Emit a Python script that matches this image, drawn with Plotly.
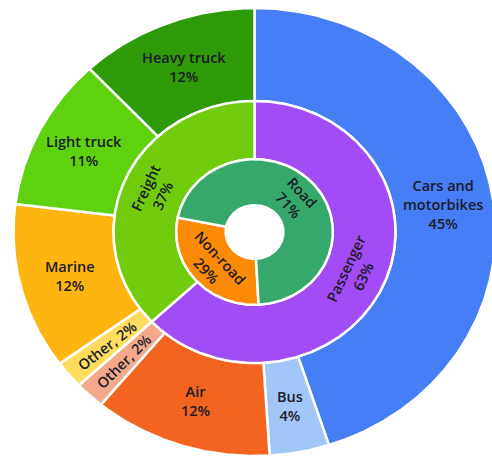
import math
import plotly.graph_objects as go

# ---- data ----
outer_labels = ["Cars and motorbikes", "Bus", "Air", "Other", "Other", "Marine", "Light truck", "Heavy truck"]
outer_values = [45, 4, 12, 2, 2, 12, 11, 12]
middle_labels = ["Passenger", "Freight"]
middle_values = [63, 37]
inner_labels = ["Non-road", "Road"]
inner_values = [29, 71]

# ---- style ----
outer_colors = ["#457ef5", "#a2c6f8", "#f2641f", "#f4a98a", "#fedd5e", "#feb50f", "#5fd20f", "#2f9a08"]
middle_colors = ["#a24cf5", "#70cc0c"]
inner_colors = ["#fb8a05", "#36a86c"]
outer_orient = ["h", "h", "h", "radial", "radial", "h", "h", "h"]
wrap = {"Cars and motorbikes": "Cars and<br>motorbikes"}

W, H = 492, 458
CX, CY = 254.5, 232.0        # centre in figure pixels
SX, SY = 241.0, 224.0        # pixels per unit (elliptical)
xr = [-CX / SX, (W - CX) / SX]
yr = [-(H - CY) / SY, CY / SY]

TXT = dict(family="Open Sans", size=14.5, color="#1b1b2a", weight=600)

fig = go.Figure()
annotations = []


def norm_angle(a):
    while a > 90:
        a -= 180
    while a <= -90:
        a += 180
    return a


def ring(labels, values, colors, r0, r1, start, orient, fmt):
    total = sum(values)
    a = start
    for i, (lab, v, c) in enumerate(zip(labels, values, colors)):
        span = 360.0 * v / total
        a0, a1 = a, a + span
        n = max(int(span * 2), 4)
        angs = [a0 + span * k / n for k in range(n + 1)]
        xs = [r1 * math.sin(math.radians(t)) for t in angs]
        ys = [r1 * math.cos(math.radians(t)) for t in angs]
        xs += [r0 * math.sin(math.radians(t)) for t in reversed(angs)]
        ys += [r0 * math.cos(math.radians(t)) for t in reversed(angs)]
        xs.append(xs[0]); ys.append(ys[0])
        fig.add_trace(go.Scatter(x=xs, y=ys, mode="lines", fill="toself",
                                 fillcolor=c, line=dict(color="white", width=2.5),
                                 name=lab, hoverinfo="name", showlegend=False))
        mid = math.radians((a0 + a1) / 2)
        rm = (r0 + r1) / 2
        o = orient[i]
        if o == "h":
            ang = 0
        elif o == "tan":
            ang = math.degrees(math.atan2(math.sin(mid) * SY, math.cos(mid) * SX))
        else:
            ang = math.degrees(math.atan2(-math.cos(mid) * SY, math.sin(mid) * SX))
        annotations.append(dict(x=rm * math.sin(mid), y=rm * math.cos(mid),
                                text=fmt(lab, v), showarrow=False,
                                textangle=norm_angle(ang), font=TXT,
                                xref="x", yref="y"))
        a = a1


ring(outer_labels, outer_values, outer_colors, 0.585, 1.0, 0.0, outer_orient,
     lambda l, v: (f"{l}, {v}%" if l == "Other" else f"{wrap.get(l, l)}<br>{v}%"))
ring(middle_labels, middle_values, middle_colors, 0.325, 0.585, 0.0, ["tan"] * 2,
     lambda l, v: f"{l}<br>{v}%")
ring(inner_labels, inner_values, inner_colors, 0.12, 0.325, 177.0, ["tan"] * 2,
     lambda l, v: f"{l}<br>{v}%")

fig.update_layout(
    width=W, height=H, margin=dict(l=0, r=0, t=0, b=0),
    paper_bgcolor="white", plot_bgcolor="white",
    xaxis=dict(range=xr, visible=False, fixedrange=True),
    yaxis=dict(range=yr, visible=False, fixedrange=True),
    annotations=annotations, showlegend=False,
)

fig.write_html("out.html", config={"displayModeBar": False},
               post_script="document.body.style.margin='0';document.body.style.overflow='hidden';")
